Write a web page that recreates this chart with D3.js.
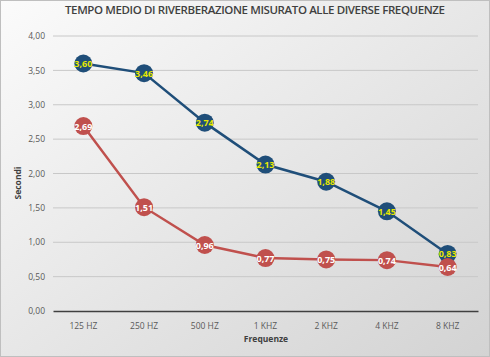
<!DOCTYPE html>
<html><head><meta charset="utf-8">
<script src="https://cdn.jsdelivr.net/npm/d3@7"></script>
<style>body{margin:0;padding:0;overflow:hidden;}svg{display:block;}</style>
</head><body>
<script>
const categories = ["125 HZ","250 HZ","500 HZ","1 KHZ","2 KHZ","4 KHZ","8 KHZ"];
const seriesBlue = [3.60,3.46,2.74,2.13,1.88,1.45,0.83];
const seriesRed = [2.69,1.51,0.96,0.77,0.75,0.74,0.64];
const yTicks = [0,0.5,1,1.5,2,2.5,3,3.5,4];
const title = "TEMPO MEDIO DI RIVERBERAZIONE MISURATO ALLE DIVERSE FREQUENZE";

const W=490,H=357;
const svg=d3.select("body").append("svg").attr("width",W).attr("height",H);
const defs=svg.append("defs");
const g=defs.append("linearGradient").attr("id","bg").attr("x1","0").attr("y1","0").attr("x2","1").attr("y2","1");
g.append("stop").attr("offset","0").attr("stop-color","#fbfbfb");
g.append("stop").attr("offset","1").attr("stop-color","#d3d3d3");
svg.append("rect").attr("x",0.5).attr("y",0.5).attr("width",W-1).attr("height",H-1).attr("fill","url(#bg)").attr("stroke","#bfbfbf");

const font="'Open Sans', Lato, sans-serif";
svg.append("text").attr("x",255).attr("y",14).attr("text-anchor","middle").attr("font-family",font)
  .attr("font-size",11.5).attr("fill","#404040").attr("font-weight",600).attr("textLength",380).text(title);

const x=d3.scaleBand().domain(categories).range([53,478]);
const y=d3.scaleLinear().domain([0,4]).range([311,36]);

svg.append("g").selectAll("line").data(yTicks.filter(d=>d>0)).join("line")
  .attr("x1",53).attr("x2",478).attr("y1",d=>y(d)).attr("y2",d=>y(d))
  .attr("stroke","#c8c8c8").attr("stroke-width",1);

const yAxis=svg.append("g").attr("transform","translate(53,0)")
  .call(d3.axisLeft(y).tickValues(yTicks).tickSize(0).tickPadding(8).tickFormat(d=>d3.format(".2f")(d).replace(".",",")));
yAxis.select(".domain").remove();
yAxis.selectAll("text").attr("font-family",font).attr("font-size",8.5).attr("fill","#595959");

const xAxis=svg.append("g").attr("transform","translate(0,311)")
  .call(d3.axisBottom(x).tickSize(0).tickPadding(12));
xAxis.select(".domain").attr("stroke","#404040").attr("stroke-width",1.5);
xAxis.selectAll("text").attr("font-family",font).attr("font-size",8.5).attr("fill","#595959");

svg.append("text").attr("x",266).attr("y",342).attr("text-anchor","middle").attr("font-family",font)
  .attr("font-size",8.5).attr("font-weight",700).attr("fill","#404040").text("Frequenze");
svg.append("text").attr("transform","translate(21,183) rotate(-90)").attr("text-anchor","middle").attr("font-family",font)
  .attr("font-size",8.5).attr("font-weight",700).attr("fill","#404040").text("Secondi");

const cx=d=>x(d)+x.bandwidth()/2;
const series=[{vals:seriesBlue,color:"#1f4e79",label:"#e8e800"},{vals:seriesRed,color:"#c0504d",label:"#ffffff"}];
series.forEach(s=>{
  const data=categories.map((c,i)=>({c,v:s.vals[i]}));
  svg.append("path").datum(data).attr("fill","none").attr("stroke",s.color).attr("stroke-width",2.5)
    .attr("d",d3.line().x(d=>cx(d.c)).y(d=>y(d.v)));
  svg.append("g").selectAll("circle").data(data).join("circle")
    .attr("cx",d=>cx(d.c)).attr("cy",d=>y(d.v)).attr("r",9).attr("fill",s.color);
});
series.forEach(s=>{
  const data=categories.map((c,i)=>({c,v:s.vals[i]}));
  svg.append("g").selectAll("text").data(data).join("text")
    .attr("x",d=>cx(d.c)).attr("y",d=>y(d.v)+3.5).attr("text-anchor","middle")
    .attr("font-family",font).attr("font-size",9).attr("font-weight",700).attr("fill",s.label)
    .text(d=>d3.format(".2f")(d.v).replace(".",","));
});
</script>
</body></html>
